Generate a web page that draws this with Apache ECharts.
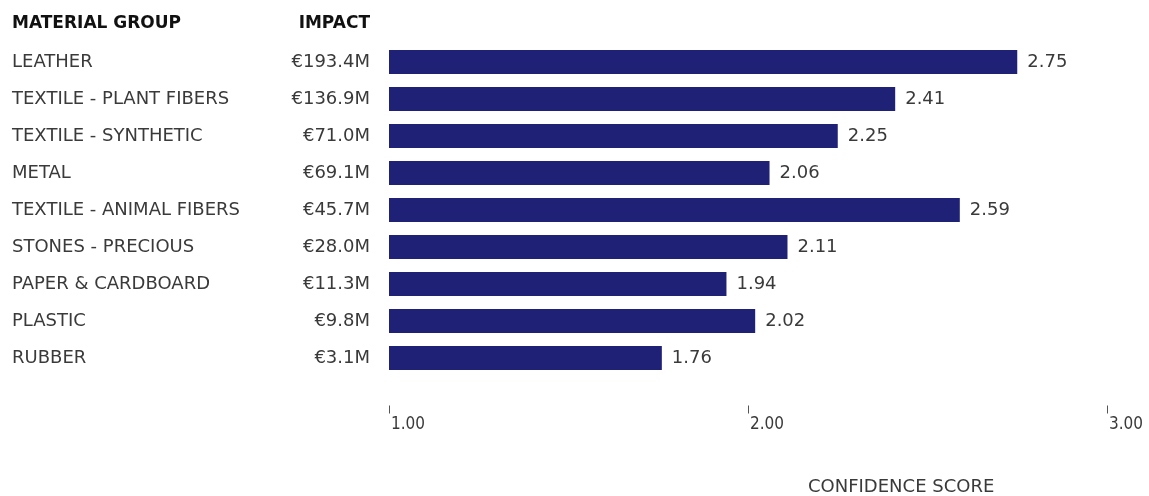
<!DOCTYPE html>
<html><head><meta charset="utf-8">
<script src="https://cdn.jsdelivr.net/npm/echarts@6/dist/echarts.min.js"></script>
<style>html,body{margin:0;padding:0;background:#fff}#c{width:1149px;height:496px}</style>
</head><body><div id="c"></div>
<script>
const categories = ["LEATHER","TEXTILE - PLANT FIBERS","TEXTILE - SYNTHETIC","METAL","TEXTILE - ANIMAL FIBERS","STONES - PRECIOUS","PAPER & CARDBOARD","PLASTIC","RUBBER"];
const impacts = ["€193.4M","€136.9M","€71.0M","€69.1M","€45.7M","€28.0M","€11.3M","€9.8M","€3.1M"];
const scores = [2.75,2.41,2.25,2.06,2.59,2.11,1.94,2.02,1.76];
const xTicks = [1,2,3];

const chart = echarts.init(document.getElementById('c'), null, {renderer:'canvas'});
const font = '"DejaVu Sans", "Noto Sans", sans-serif';
const fontC = '"DejaVu Sans Condensed", "DejaVu Sans", sans-serif';
chart.setOption({
  animation:false,
  grid:{left:389,right:42,top:43.5,bottom:119.5,containLabel:false},
  xAxis:{type:'value',min:1,max:3,interval:1,offset:29,
    axisLine:{show:false},splitLine:{show:false},
    axisTick:{show:true,length:8,lineStyle:{color:'#555',width:1}},
    axisLabel:{formatter:v=>xTicks.includes(v)?v.toFixed(2):'',align:'left',padding:[0,0,0,2],margin:11,fontFamily:fontC,fontSize:17,color:'#3a3a3a'}},
  yAxis:[
    {type:'category',data:impacts,inverse:true,position:'left',
      axisLine:{show:false},axisTick:{show:false},
      axisLabel:{margin:19,padding:[2,0,0,0],fontFamily:font,fontSize:18,color:'#3a3a3a'}},
    {type:'category',data:categories,inverse:true,position:'left',
      axisLine:{show:false},axisTick:{show:false},
      axisLabel:{align:'left',margin:377,padding:[2,0,0,0],fontFamily:font,fontSize:18,color:'#3a3a3a'}}
  ],
  series:[{type:'bar',data:scores,barWidth:24,yAxisIndex:0,
    itemStyle:{color:'#1f2176'},
    label:{show:true,position:'right',distance:10,padding:[2,0,0,0],formatter:p=>p.value.toFixed(2),fontFamily:font,fontSize:18,color:'#3a3a3a'}}],
  graphic:[
    {type:'text',left:12,top:15,style:{text:'MATERIAL GROUP',font:'bold 17px '+font,fill:'#111'}},
    {type:'text',right:1149-370,top:15,style:{text:'IMPACT',font:'bold 17px '+font,fill:'#111'}},
    {type:'text',left:808,top:478,style:{text:'CONFIDENCE SCORE',font:'18px '+font,fill:'#3a3a3a'}}
  ]
});
</script></body></html>
